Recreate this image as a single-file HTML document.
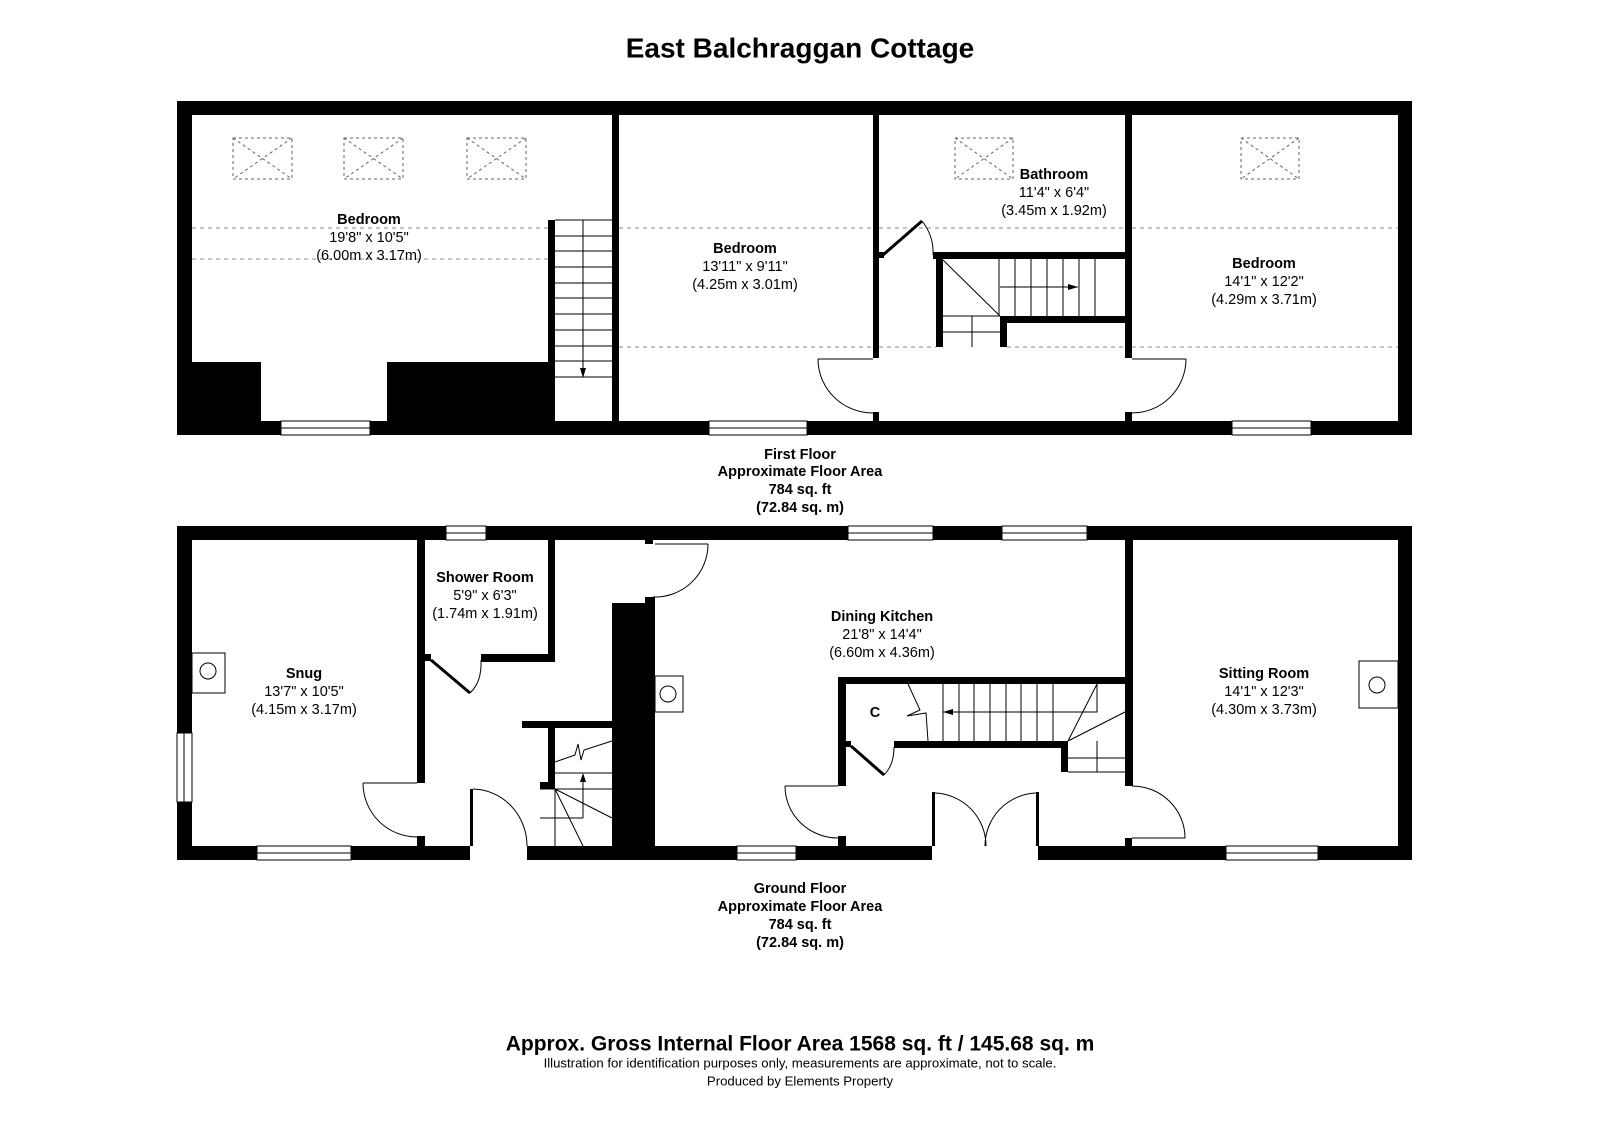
<!DOCTYPE html>
<html><head><meta charset="utf-8"><style>
html,body{margin:0;padding:0;background:#fff;}
svg{display:block;}
text{font-family:"Liberation Sans",Arial,sans-serif;fill:#000;}
.b{font-weight:bold;}
</style></head><body>
<svg width="1600" height="1130" viewBox="0 0 1600 1130" xmlns="http://www.w3.org/2000/svg">
<rect width="1600" height="1130" fill="#fff"/>
<text x="800" y="48" class="b" font-size="28" text-anchor="middle" dominant-baseline="central">East Balchraggan Cottage</text>

<!-- ============ FIRST FLOOR ============ -->
<g fill="#000">
<rect x="177" y="101" width="1235" height="14"/>
<rect x="177" y="421" width="1235" height="14"/>
<rect x="177" y="101" width="15" height="334"/>
<rect x="1398" y="101" width="14" height="334"/>
<rect x="192" y="362" width="363" height="59"/>
<rect x="548" y="220" width="7" height="142"/>
<rect x="612" y="115" width="7" height="306"/>
<rect x="873" y="115" width="6" height="243"/>
<rect x="873" y="412" width="6" height="9"/>
<rect x="879" y="252" width="5" height="6"/>
<rect x="933" y="252" width="199" height="7"/>
<rect x="936" y="259" width="7" height="88"/>
<rect x="1000" y="316" width="125" height="7"/>
<rect x="1000" y="316" width="7" height="31"/>
<rect x="1125" y="115" width="7" height="243"/>
<rect x="1125" y="412" width="7" height="9"/>
</g>
<rect x="261" y="362" width="126" height="59" fill="#fff"/>
<g fill="#fff" stroke="#000" stroke-width="1">
<rect x="281" y="421" width="89" height="14"/>
<rect x="709" y="421" width="98" height="14"/>
<rect x="1232" y="421" width="79" height="14"/>
</g>
<g stroke="#000" stroke-width="1">
<line x1="281" y1="428" x2="370" y2="428"/>
<line x1="709" y1="428" x2="807" y2="428"/>
<line x1="1232" y1="428" x2="1311" y2="428"/>
</g>
<g stroke="#888" stroke-width="1" stroke-dasharray="4,4" fill="none">
<line x1="192" y1="228" x2="548" y2="228"/>
<line x1="192" y1="259" x2="548" y2="259"/>
<line x1="619" y1="228" x2="873" y2="228"/>
<line x1="879" y1="228" x2="1125" y2="228"/>
<line x1="1132" y1="228" x2="1398" y2="228"/>
<line x1="619" y1="347" x2="873" y2="347"/>
<line x1="879" y1="347" x2="936" y2="347"/>
<line x1="1007" y1="347" x2="1125" y2="347"/>
<line x1="1132" y1="347" x2="1398" y2="347"/>
</g>
<g stroke="#666" stroke-width="1" stroke-dasharray="3,3" fill="none">
<rect x="233" y="138" width="59" height="41"/><path d="M233 138L292 179M292 138L233 179"/>
<rect x="344" y="138" width="59" height="41"/><path d="M344 138L403 179M403 138L344 179"/>
<rect x="467" y="138" width="59" height="41"/><path d="M467 138L526 179M526 138L467 179"/>
<rect x="955" y="138" width="58" height="41"/><path d="M955 138L1013 179M1013 138L955 179"/>
<rect x="1241" y="138" width="58" height="41"/><path d="M1241 138L1299 179M1299 138L1241 179"/>
</g>
<g stroke="#000" stroke-width="1" fill="none">
<path d="M555 220H612M555 236H612M555 251H612M555 267H612M555 283H612M555 298H612M555 314H612M555 330H612M555 346H612M555 361H612M555 377H612"/>
<line x1="583" y1="220" x2="583" y2="372"/>
</g>
<path d="M580 368L586 368L583 378Z" fill="#000"/>
<g stroke="#000" stroke-width="1" fill="none">
<path d="M999 259V316M1015 259V316M1031 259V316M1047 259V316M1063 259V316M1079 259V316M1095 259V316"/>
<line x1="943" y1="260" x2="1000" y2="316"/>
<path d="M943 332H1000M972 316V347M943 316H1000"/>
<line x1="1000" y1="287" x2="1078" y2="287"/>
<line x1="883" y1="255" x2="922" y2="221" stroke-width="3"/>
<path d="M922 221Q934 236 933 255" stroke-width="1"/>
<path d="M818 359H873M818 359A55 54 0 0 0 873 413"/>
<path d="M1186 359H1132M1186 359A54 54 0 0 1 1132 413"/>
</g>
<path d="M1068 284L1068 290L1078 287Z" fill="#000"/>

<g text-anchor="middle" dominant-baseline="central" font-size="14.5">
<text x="369" y="220" class="b">Bedroom</text>
<text x="369" y="238">19'8" x 10'5"</text>
<text x="369" y="256">(6.00m x 3.17m)</text>
<text x="745" y="249" class="b">Bedroom</text>
<text x="745" y="267">13'11" x 9'11"</text>
<text x="745" y="285">(4.25m x 3.01m)</text>
<text x="1054" y="175" class="b">Bathroom</text>
<text x="1054" y="193">11'4" x 6'4"</text>
<text x="1054" y="211">(3.45m x 1.92m)</text>
<text x="1264" y="264" class="b">Bedroom</text>
<text x="1264" y="282">14'1" x 12'2"</text>
<text x="1264" y="300">(4.29m x 3.71m)</text>
</g>
<g text-anchor="middle" dominant-baseline="central" font-size="14.5">
<text x="800" y="455" class="b">First Floor</text>
<text x="800" y="472" class="b">Approximate Floor Area</text>
<text x="800" y="490" class="b">784 sq. ft</text>
<text x="800" y="508" class="b">(72.84 sq. m)</text>
</g>

<!-- ============ GROUND FLOOR ============ -->
<g fill="#000">
<rect x="177" y="526" width="1235" height="14"/>
<rect x="177" y="846" width="293" height="14"/>
<rect x="527" y="846" width="405" height="14"/>
<rect x="1038" y="846" width="374" height="14"/>
<rect x="177" y="526" width="15" height="334"/>
<rect x="1398" y="526" width="14" height="334"/>
<rect x="417" y="540" width="8" height="243"/>
<rect x="417" y="836" width="8" height="10"/>
<rect x="548" y="540" width="7" height="122"/>
<rect x="481" y="654" width="74" height="8"/>
<rect x="425" y="654" width="6" height="7"/>
<rect x="522" y="721" width="90" height="7"/>
<rect x="548" y="728" width="7" height="61"/>
<rect x="540" y="782" width="15" height="7"/>
<rect x="470" y="789" width="3" height="57"/>
<rect x="612" y="603" width="43" height="243"/>
<rect x="645" y="597" width="10" height="6"/>
<rect x="645" y="540" width="8" height="4"/>
<rect x="838" y="677" width="294" height="7"/>
<rect x="838" y="677" width="8" height="109"/>
<rect x="838" y="836" width="8" height="10"/>
<rect x="846" y="741" width="5" height="6"/>
<rect x="894" y="741" width="174" height="7"/>
<rect x="1061" y="741" width="7" height="31"/>
<rect x="1125" y="540" width="8" height="246"/>
<rect x="1125" y="838" width="7" height="8"/>
<rect x="932" y="792" width="3" height="54"/>
<rect x="1036" y="792" width="3" height="54"/>
</g>
<g fill="#fff" stroke="#000" stroke-width="1">
<rect x="446" y="526" width="40" height="14"/>
<rect x="848" y="526" width="85" height="14"/>
<rect x="1002" y="526" width="85" height="14"/>
<rect x="257" y="846" width="94" height="14"/>
<rect x="737" y="846" width="59" height="14"/>
<rect x="1226" y="846" width="92" height="14"/>
<rect x="177" y="733" width="15" height="69"/>
<rect x="192" y="653" width="33" height="40"/>
<circle cx="208" cy="671" r="8"/>
<rect x="655" y="676" width="28" height="36"/>
<circle cx="668" cy="694" r="8"/>
<rect x="1359" y="661" width="39" height="47"/>
<circle cx="1377" cy="685" r="8"/>
</g>
<g stroke="#000" stroke-width="1" fill="none">
<path d="M446 533H486M848 533H933M1002 533H1087M257 853H351M737 853H796M1226 853H1318M184 733V802"/>
<path d="M363 783H417M363 783A54 54 0 0 0 417 837"/>
<line x1="431" y1="660" x2="470" y2="693" stroke-width="3"/>
<path d="M481 660Q482 682 470 693"/>
<path d="M473 789A55 57 0 0 1 527 846"/>
<path d="M655 544H708M708 544A53 53 0 0 1 653 597"/>
<path d="M785 786H838M785 786A53 52 0 0 0 838 838"/>
<line x1="851" y1="746" x2="884" y2="775" stroke-width="3"/>
<path d="M894 747Q894 765 884 775"/>
<path d="M1132 786A53 52 0 0 1 1185 838H1132"/>
<path d="M935 793A53 53 0 0 1 986 846"/>
<path d="M1036 793A53 53 0 0 0 985 846"/>
<path d="M555 762L575 755L578 744L581 760L584 750L612 741"/>
<path d="M555 773H612M540 789H612M540 818H583M583 789V818M555 789L612 818M555 789L583 846M555 789V846"/>
<line x1="583" y1="818" x2="583" y2="778"/>
<path d="M943 684V741M959 684V741M974 684V741M990 684V741M1006 684V741M1021 684V741M1037 684V741M1053 684V741"/>
<path d="M908 684L920 710L907 716L926 713L928 741"/>
<path d="M943 712H1097V684"/>
<path d="M1068 741L1097 684M1068 741L1125 712M1068 758H1125M1097 741V772M1068 772H1125"/>
</g>
<path d="M580 782L586 782L583 773Z" fill="#000"/>
<path d="M953 709L953 715L943 712Z" fill="#000"/>

<g text-anchor="middle" dominant-baseline="central" font-size="14.5">
<text x="485" y="578" class="b">Shower Room</text>
<text x="485" y="596">5'9" x 6'3"</text>
<text x="485" y="614">(1.74m x 1.91m)</text>
<text x="304" y="674" class="b">Snug</text>
<text x="304" y="692">13'7" x 10'5"</text>
<text x="304" y="710">(4.15m x 3.17m)</text>
<text x="882" y="617" class="b">Dining Kitchen</text>
<text x="882" y="635">21'8" x 14'4"</text>
<text x="882" y="653">(6.60m x 4.36m)</text>
<text x="875" y="713" class="b">C</text>
<text x="1264" y="674" class="b">Sitting Room</text>
<text x="1264" y="692">14'1" x 12'3"</text>
<text x="1264" y="710">(4.30m x 3.73m)</text>
</g>
<g text-anchor="middle" dominant-baseline="central" font-size="14.5">
<text x="800" y="889" class="b">Ground Floor</text>
<text x="800" y="907" class="b">Approximate Floor Area</text>
<text x="800" y="925" class="b">784 sq. ft</text>
<text x="800" y="943" class="b">(72.84 sq. m)</text>
</g>
<g text-anchor="middle" dominant-baseline="central">
<text x="800" y="1044" class="b" font-size="21">Approx. Gross Internal Floor Area 1568 sq. ft / 145.68 sq. m</text>
<text x="800" y="1063" font-size="13.2">Illustration for identification purposes only, measurements are approximate, not to scale.</text>
<text x="800" y="1081" font-size="13.2">Produced by Elements Property</text>
</g>
</svg>
</body></html>
